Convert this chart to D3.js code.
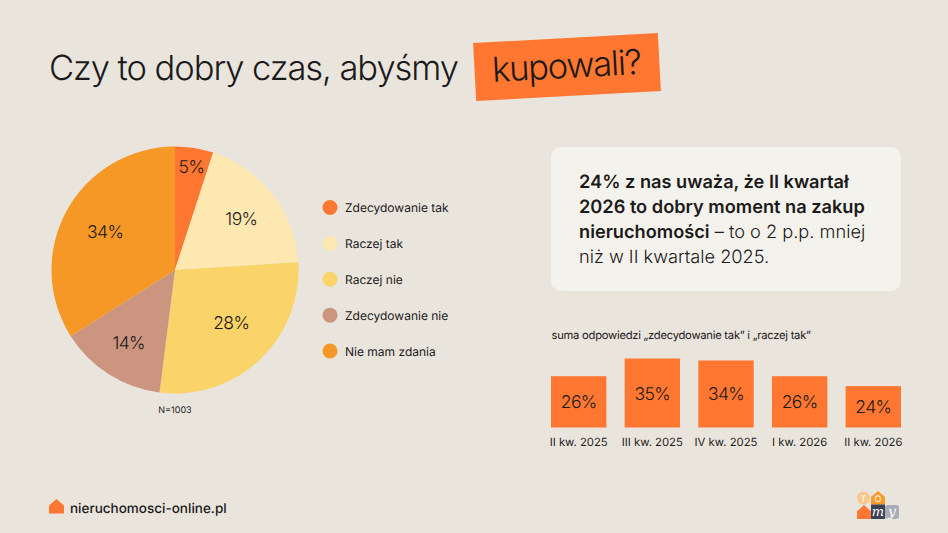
<!DOCTYPE html>
<html lang="pl"><head><meta charset="utf-8">
<script src="https://cdn.jsdelivr.net/npm/d3@7"></script>
<style>html,body{margin:0;padding:0;background:#e9e5dd}svg{display:block}text{font-family:Inter,sans-serif;fill:#1c1a1a;text-rendering:geometricPrecision}</style>
</head><body><svg id="c" width="948" height="533"></svg>
<script>
const pieLabels=["Zdecydowanie tak","Raczej tak","Raczej nie","Zdecydowanie nie","Nie mam zdania"];
const pieValues=[5,19,28,14,34];
const pieColors=["#ff7730","#fde8b2","#fad369","#cb9580","#f69826"];
const quarters=["II kw. 2025","III kw. 2025","IV kw. 2025","I kw. 2026","II kw. 2026"];
const quarterValues=[26,35,34,26,24];
// Heights as drawn in the picture: the last bar is drawn shorter than its 24% label.
const quarterDrawn=[26,35,34,26,21];
const svg=d3.select("#c");
const W=948,H=533,orange="#ff7730";
svg.append("rect").attr("width",W).attr("height",H).attr("fill","#e9e5dd");

// title
svg.append("text").attr("x",49).attr("y",80).attr("font-size",34.5).attr("font-weight",300).attr("textLength",410).attr("lengthAdjust","spacing").text("Czy to dobry czas, abyśmy");
const tag=svg.append("g").attr("transform","translate(567,67) rotate(-3.1)");
tag.append("rect").attr("x",-92.5).attr("y",-29).attr("width",185).attr("height",58).attr("fill",orange);
tag.append("text").attr("x",0).attr("y",11).attr("text-anchor","middle").attr("font-size",34.5).attr("font-weight",300).attr("textLength",150).attr("lengthAdjust","spacing").text("kupowali?");

// pie
const cx=175,cy=270,R=123.5;
const pie=d3.pie().sort(null).value(d=>d)(pieValues);
const arc=d3.arc().innerRadius(0).outerRadius(R);
const gp=svg.append("g").attr("transform",`translate(${cx},${cy})`);
gp.selectAll("path").data(pie).join("path").attr("d",arc).attr("fill",(d,i)=>pieColors[i]);
const lr=[0.85,0.68,0.62,0.70,0.645], shift=[0,0,-0.07,0,0];
gp.selectAll("text").data(pie).join("text").attr("text-anchor","middle").attr("font-size",17.5).attr("font-weight",300).attr("letter-spacing","-0.6")
  .attr("transform",(d,i)=>{const a=(d.startAngle+d.endAngle)/2+shift[i],r=R*lr[i];return `translate(${Math.sin(a)*r},${-Math.cos(a)*r+6.5})`})
  .text(d=>d.value+"%");
svg.append("text").attr("x",175).attr("y",412.5).attr("text-anchor","middle").attr("font-size",9).attr("fill","#333").text("N=1003");

// legend
const ly=d3.scalePoint().domain(pieLabels).range([207.5,351]);
const lg=svg.append("g").selectAll("g").data(pieLabels).join("g").attr("transform",d=>`translate(0,${ly(d)})`);
lg.append("circle").attr("cx",330).attr("r",7.5).attr("fill",(d,i)=>pieColors[i]);
lg.append("text").attr("x",345).attr("y",4.5).attr("font-size",12).text(d=>d);

// callout
svg.append("rect").attr("x",551).attr("y",147).attr("width",350).attr("height",144).attr("rx",10).attr("fill","#f4f2ec");
const lines=[[["24% z nas uważa, że II kwartał",600]],[["2026 to dobry moment na zakup",600]],[["nieruchomości",600],[" – to o 2 p.p. mniej",300]],[["niż w II kwartale 2025.",300]]];
lines.forEach((l,i)=>{const t=svg.append("text").attr("x",579).attr("y",188+i*25).attr("font-size",18.2);
  l.forEach(s=>t.append("tspan").attr("font-weight",s[1]).text(s[0]));});

// bars
svg.append("text").attr("x",551.5).attr("y",339).attr("font-size",11.2).attr("fill","#333").attr("textLength",259.5).attr("lengthAdjust","spacing").text("suma odpowiedzi „zdecydowanie tak” i „raczej tak”");
const x=d3.scaleBand().domain(quarters).range([551,901]).paddingInner(0.248).paddingOuter(0);
const y=d3.scaleLinear().domain([0,35]).range([427.5,358.5]);
const gb=svg.append("g").selectAll("g").data(quarters).join("g");
gb.append("rect").attr("x",d=>x(d)).attr("width",x.bandwidth()).attr("y",(d,i)=>y(quarterDrawn[i])).attr("height",(d,i)=>y(0)-y(quarterDrawn[i])).attr("fill",orange);
gb.append("text").attr("x",d=>x(d)+x.bandwidth()/2).attr("y",(d,i)=>(y(quarterDrawn[i])+y(0))/2+6.5).attr("text-anchor","middle").attr("font-size",17.5).attr("font-weight",300).attr("letter-spacing","-0.6").text((d,i)=>quarterValues[i]+"%");
gb.append("text").attr("x",d=>x(d)+x.bandwidth()/2).attr("y",446).attr("text-anchor","middle").attr("font-size",11.3).attr("fill","#333").text(d=>d);

// footer
const house=(px,py,w,h,c)=>svg.append("path").attr("d",`M${px},${py+h}V${py+h*0.45}L${px+w/2},${py}L${px+w},${py+h*0.45}V${py+h}Z`).attr("fill",c);
house(49,499,15,14.5,orange);
svg.append("text").attr("x",70).attr("y",513).attr("font-size",13.5).attr("font-weight",500).text("nieruchomosci-online.pl");

// logo
house(857,505,14,14,orange);
svg.append("circle").attr("cx",863.5).attr("cy",498).attr("r",6.5).attr("fill","#fbc78c");
svg.append("text").attr("x",863.5).attr("y",501.5).attr("text-anchor","middle").attr("font-size",9).attr("style","fill:#fff").text("T");
house(871,491,14,13.5,"#f79a28");
svg.append("text").attr("x",878).attr("y",502).attr("text-anchor","middle").attr("font-size",9).attr("style","fill:#fff").text("O");
svg.append("rect").attr("x",871).attr("y",504.5).attr("width",14).attr("height",14.5).attr("fill","#3f4256");
svg.append("text").attr("x",878).attr("y",516).attr("text-anchor","middle").attr("font-size",13).attr("font-style","italic").attr("style","fill:#fff;font-family:'DejaVu Serif',serif").text("m");
svg.append("rect").attr("x",885).attr("y",505).attr("width",14).attr("height",14).attr("rx",3).attr("fill","#a9acb6");
svg.append("text").attr("x",892).attr("y",516).attr("text-anchor","middle").attr("font-size",14).attr("font-style","italic").attr("style","fill:#fff;font-family:'DejaVu Serif',serif").text("y");
</script></body></html>
